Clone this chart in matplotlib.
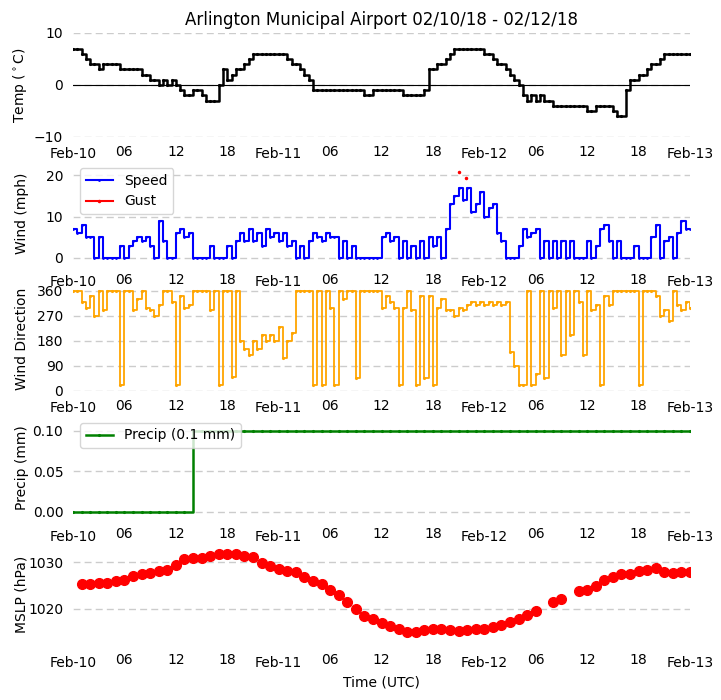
import numpy as np
import pandas as pd
import matplotlib
matplotlib.use('Agg')
import matplotlib.pyplot as plt
import matplotlib.dates as mdates

start = pd.Timestamp('2018-02-10 00:00')

# half-hourly observations, hours since Feb-10 00Z
half_hours = np.arange(0, 72.5, 0.5)

temp_c = [7, 7, 6, 5, 4, 4, 3, 4, 4, 4, 4, 3,
          3, 3, 3, 3, 2, 2, 1, 1, 0, 1, 0, 1,
          0, -1, -2, -2, -1, -1, -2, -3, -3, -3, 0, 3,
          1, 2, 3, 3, 4, 5, 6, 6, 6, 6, 6, 6,
          6, 6, 5, 4, 4, 3, 2, 1, -1, -1, -1, -1,
          -1, -1, -1, -1, -1, -1, -1, -1, -2, -2, -1, -1,
          -1, -1, -1, -1, -1, -2, -2, -2, -2, -2, -1, 3,
          3, 4, 4, 5, 6, 7, 7, 7, 7, 7, 7, 7,
          6, 6, 5, 4, 4, 3, 2, 1, 0, -2, -3, -2,
          -3, -2, -3, -3, -4, -4, -4, -4, -4, -4, -4, -4,
          -5, -5, -4, -4, -4, -4, -5, -6, -6, -1, 1, 1,
          2, 2, 3, 4, 4, 5, 6, 6, 6, 6, 6, 6,
          6]

wind_mph = [7, 6, 8, 5, 5, 0, 5, 0, 0, 0, 0, 3,
            0, 3, 4, 5, 4, 5, 3, 0, 9, 4, 0, 0,
            6, 7, 5, 6, 0, 0, 0, 0, 3, 0, 0, 0,
            3, 0, 4, 6, 4, 7, 4, 6, 3, 7, 5, 6,
            4, 6, 3, 4, 0, 3, 0, 4, 6, 5, 4, 6,
            5, 5, 0, 4, 0, 3, 0, 0, 0, 0, 0, 0,
            5, 6, 4, 5, 0, 4, 0, 3, 0, 4, 0, 5,
            3, 5, 0, 7, 13, 15, 17, 14, 17, 11, 13, 16,
            10, 12, 13, 6, 4, 0, 0, 0, 3, 7, 5, 6,
            7, 0, 4, 0, 4, 0, 4, 0, 4, 0, 0, 0,
            4, 0, 3, 7, 8, 4, 0, 4, 0, 0, 0, 3,
            0, 0, 0, 5, 8, 0, 4, 5, 0, 6, 9, 7,
            7]

wind_dir = [360, 360, 320, 300, 340, 270, 360, 290, 360, 360, 360, 20,
            360, 360, 290, 330, 360, 300, 290, 270, 310, 360, 360, 320,
            20, 340, 300, 310, 360, 360, 360, 360, 290, 360, 20, 360,
            360, 50, 360, 180, 150, 130, 180, 150, 200, 180, 200, 180,
            230, 120, 180, 210, 360, 360, 360, 360, 20, 360, 20, 360,
            300, 20, 360, 330, 360, 360, 45, 360, 360, 360, 360, 360,
            300, 340, 320, 300, 20, 300, 360, 290, 20, 340, 45, 340,
            20, 300, 330, 290, 290, 270, 300, 290, 310, 320, 310, 320,
            310, 320, 310, 320, 310, 320, 140, 90, 20, 20, 360, 20,
            60, 360, 45, 360, 300, 360, 130, 360, 200, 360, 320, 130,
            360, 290, 310, 20, 340, 310, 360, 360, 360, 360, 360, 360,
            20, 360, 360, 360, 340, 270, 290, 250, 360, 310, 290, 320,
            300]

gust_hours = [45.0, 45.4, 45.9]
gust_mph = [20.7, np.nan, 19.3]

# hourly precip accumulation
precip_hours = np.arange(0, 73, 1)
precip_mm = [0.0, 0.0, 0.0, 0.0, 0.0, 0.0, 0.0, 0.0, 0.0, 0.0, 0.0, 0.0,
             0.0, 0.0, 0.1, 0.1, 0.1, 0.1, 0.1, 0.1, 0.1, 0.1, 0.1, 0.1,
             0.1, 0.1, 0.1, 0.1, 0.1, 0.1, 0.1, 0.1, 0.1, 0.1, 0.1, 0.1,
             0.1, 0.1, 0.1, 0.1, 0.1, 0.1, 0.1, 0.1, 0.1, 0.1, 0.1, 0.1,
             0.1, 0.1, 0.1, 0.1, 0.1, 0.1, 0.1, 0.1, 0.1, 0.1, 0.1, 0.1,
             0.1, 0.1, 0.1, 0.1, 0.1, 0.1, 0.1, 0.1, 0.1, 0.1, 0.1, 0.1,
             0.1]

mslp_hours = [1, 2, 3, 4, 5, 6, 7, 8, 9, 10, 11, 12,
              13, 14, 15, 16, 17, 18, 19, 20, 21, 22, 23, 24,
              25, 26, 27, 28, 29, 30, 31, 32, 33, 34, 35, 36,
              37, 38, 39, 40, 41, 42, 43, 44, 45, 46, 47, 48,
              49, 50, 51, 52, 53, 54, 56, 57, 59, 60,
              61, 62, 63, 64, 65, 66, 67, 68, 69, 70, 71, 72]
mslp_hpa = [1025.4, 1025.4, 1025.6, 1025.6, 1026.0, 1026.2, 1027.1, 1027.5, 1027.6, 1028.1, 1028.4, 1029.4,
            1030.6, 1030.8, 1030.8, 1031.25, 1031.7, 1031.7, 1031.8, 1031.25, 1031.0, 1029.9, 1029.2, 1028.5,
            1028.1, 1027.9, 1026.9, 1025.9, 1025.3, 1024.1, 1022.9, 1021.5, 1020.1, 1018.5, 1017.8, 1017.1,
            1016.4, 1015.8, 1015.1, 1015.1, 1015.6, 1015.8, 1015.8, 1015.6, 1015.4, 1015.6, 1015.7, 1015.7,
            1016.1, 1016.6, 1017.3, 1017.8, 1018.75, 1019.6, 1021.4, 1022.2, 1023.75, 1024.0,
            1025.0, 1026.1, 1026.9, 1027.4, 1027.4, 1028.2, 1028.3, 1028.7, 1027.9, 1027.7, 1027.8, 1027.9]


def to_time(hours):
    return start + pd.to_timedelta(np.asarray(hours, dtype=float), unit='h')


t_half = to_time(half_hours)

fig = plt.figure(figsize=(7.21, 7.0), dpi=100)
W, H = 721.0, 700.0
left, right = 73, 690
# (top px, bottom px) for each panel
rows = [(33, 137), (161, 265), (287, 391), (416, 520), (542, 646)]
axes = []
for top, bot in rows:
    ax = fig.add_axes([left / W, 1 - bot / H, (right - left) / W, (bot - top) / H])
    axes.append(ax)
ax1, ax2, ax3, ax4, ax5 = axes

grid_kw = dict(color='#cccccc', linestyle=(0, (5, 3)), linewidth=1)

ax1.plot(t_half, temp_c, 'k.-', ms=2.5, lw=1.8, drawstyle='steps-post')
ax1.axhline(0, color='k', lw=0.8)
ax1.set_ylim(-10, 10)
ax1.set_yticks([-10, 0, 10])
ax1.set_ylabel(r'Temp ($^\circ$C)')
ax1.set_title('Arlington Municipal Airport 02/10/18 - 02/12/18', fontsize=12)

ax2.plot(t_half, wind_mph, 'b.-', ms=2, lw=1.5, drawstyle='steps-post', label='Speed')
ax2.plot(to_time(gust_hours), gust_mph, 'r.-', ms=3, lw=1.5, label='Gust')
ax2.set_ylim(-1.7, 23.4)
ax2.set_yticks([0, 10, 20])
ax2.set_ylabel('Wind (mph)')
ax2.legend(loc='upper left')

ax3.plot(t_half, wind_dir, color='orange', marker='.', ms=2.5, lw=1.3, drawstyle='steps-post')
ax3.set_ylim(0, 374)
ax3.set_yticks([0, 90, 180, 270, 360])
ax3.set_ylabel('Wind Direction')

ax4.plot(to_time(precip_hours), precip_mm, 'g.-', ms=2.5, lw=1.8, drawstyle='steps-post',
         label='Precip (0.1 mm)')
ax4.set_ylim(-0.0099, 0.1185)
ax4.set_yticks([0.0, 0.05, 0.10])
ax4.set_yticklabels(['0.00', '0.05', '0.10'])
ax4.set_ylabel('Precip (mm)')
ax4.legend(loc='upper left')

ax5.plot(to_time(mslp_hours), mslp_hpa, 'ro', ms=7)
ax5.set_ylim(1012.1, 1034.3)
ax5.set_yticks([1020, 1030])
ax5.set_ylabel('MSLP (hPa)')
ax5.set_xlabel('Time (UTC)')

for ax in axes:
    ax.set_xlim(start, start + pd.Timedelta(hours=72))
    ax.xaxis.set_major_locator(mdates.DayLocator())
    ax.xaxis.set_major_formatter(mdates.DateFormatter('%b-%d'))
    ax.xaxis.set_minor_locator(mdates.HourLocator(byhour=[6, 12, 18]))
    ax.xaxis.set_minor_formatter(mdates.DateFormatter('%H'))
    ax.grid(axis='y', **grid_kw)
    ax.set_axisbelow(True)
    for s in ax.spines.values():
        s.set_visible(False)
    ax.tick_params(which='both', color='white')
    ax.yaxis.set_label_coords(-0.072, 0.5)

fig.savefig('out.png', dpi=100)
